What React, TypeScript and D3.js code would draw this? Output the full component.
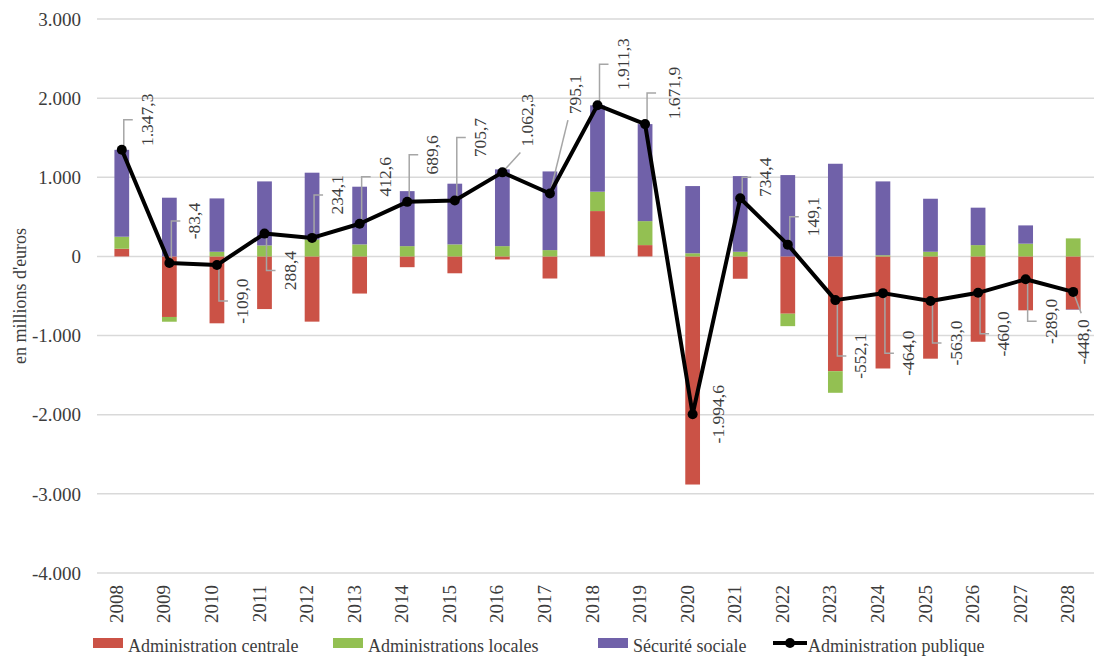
import React, { useEffect, useRef } from "react";
import * as d3 from "d3";

const years = [
  "2008", "2009", "2010", "2011", "2012", "2013", "2014", "2015", "2016", "2017", "2018",
  "2019", "2020", "2021", "2022", "2023", "2024", "2025", "2026", "2027", "2028",
];

// en millions d'euros
const adminCentrale = [97, -765, -845, -665, -824, -469, -136, -213, -38, -279, 573, 143, -2882, -282, -724, -1450, -1416, -1292, -1078, -681, -671];
const adminLocales = [152, -60, 59, 139, 215, 152, 130, 152, 130, 80, 245, 303, 40, 59, -157, -273, 15, 59, 143, 161, 228];
const securiteSociale = [1098, 742, 674, 809, 843, 729, 695, 767, 970, 994, 1091, 1226, 849, 956, 1028, 1171, 933, 670, 473, 231, -5];
const adminPublique = [1347.3, -83.4, -109.0, 288.4, 234.1, 412.6, 689.6, 705.7, 1062.3, 795.1, 1911.3, 1671.9, -1994.6, 734.4, 149.1, -552.1, -464.0, -563.0, -460.0, -289.0, -448.0];

const yTicks = [3000, 2000, 1000, 0, -1000, -2000, -3000, -4000];

const seriesNames = ["Administration centrale", "Administrations locales", "Sécurité sociale"];
const lineName = "Administration publique";

// label placement (pixel offset of the label centre from its point) and leader style
const labelDx = [25, 25, 25, 25, 25, 25, 25, 25, 25, 25, 25, 29, 25, 25, 25, 25, 25, 25, 25, 25, 10];
const labelDy = [-30, -42, 36, 37, -43, -47, -47, -63, -52, -99, -41, -31, 0, -21, -28, 56, 60, 42, 41, 42, 50];
const leaderType = ["elbow", "elbow", "elbow", "elbow", "elbow", "elbow", "elbow", "elbow", "diag", "diag", "elbow", "elbow", "none", "elbow", "elbow", "elbow", "elbow", "elbow", "elbow", "elbow", "diag"];

const colors = ["#cb5246", "#93c052", "#7061a9"];
const font = "Liberation Serif, DejaVu Serif, serif";
const textColor = "#3c3c3c";

export default function App() {
  const ref = useRef<SVGSVGElement>(null);

  useEffect(() => {
    const svg = d3.select(ref.current);
    svg.selectAll("*").remove();

    const x = d3.scaleBand().domain(years).range([98, 1097]).paddingInner(0.69).paddingOuter(0.345);
    const y = d3.scaleLinear().domain([-4000, 3000]).range([573, 19]);
    const cx = (yr: string) => (x(yr) as number) + x.bandwidth() / 2;

    const loc = d3.formatLocale({ decimal: ",", thousands: ".", grouping: [3], currency: ["", ""], minus: "-" } as any);
    const tickFmt = loc.format(",.0f");
    const labelFmt = loc.format(",.1f");

    // gridlines
    svg.append("g")
      .selectAll("line")
      .data(yTicks)
      .join("line")
      .attr("x1", 97)
      .attr("x2", 1094)
      .attr("y1", d => y(d))
      .attr("y2", d => y(d))
      .attr("stroke", "#d9d9d9")
      .attr("stroke-width", 1.5);

    // y tick labels
    svg.append("g")
      .selectAll("text")
      .data(yTicks)
      .join("text")
      .attr("x", 81)
      .attr("y", d => y(d))
      .attr("dy", "0.35em")
      .attr("text-anchor", "end")
      .style("font-family", font)
      .attr("font-size", 19)
      .attr("fill", textColor)
      .text(d => tickFmt(d));

    // y axis title
    svg.append("text")
      .attr("transform", `translate(26, ${(y(3000) + y(-4000)) / 2}) rotate(-90)`)
      .attr("text-anchor", "middle")
      .style("font-family", font)
      .attr("font-size", 18)
      .attr("fill", textColor)
      .text("en millions d'euros");

    // x labels
    svg.append("g")
      .selectAll("text")
      .data(years)
      .join("text")
      .attr("transform", d => `translate(${cx(d) + 1}, 585) rotate(-90)`)
      .attr("text-anchor", "end")
      .style("font-family", font)
      .attr("font-size", 19)
      .attr("fill", textColor)
      .text(d => d);

    // stacked bars
    const table = years.map((yr, i) => ({
      year: yr,
      centrale: adminCentrale[i],
      locales: adminLocales[i],
      securite: securiteSociale[i],
    }));
    const stacked = d3.stack<any>()
      .keys(["centrale", "locales", "securite"])
      .offset(d3.stackOffsetDiverging)(table);

    svg.append("g")
      .selectAll("g")
      .data(stacked)
      .join("g")
      .attr("fill", (d, i) => colors[i])
      .selectAll("rect")
      .data(d => d)
      .join("rect")
      .attr("x", (d: any) => x(d.data.year) as number)
      .attr("width", x.bandwidth())
      .attr("y", d => y(Math.max(d[0], d[1])))
      .attr("height", d => Math.abs(y(d[0]) - y(d[1])));

    // leader lines + data labels
    const labels = svg.append("g");
    const leaders = svg.append("g");
    years.forEach((yr, i) => {
      const px = cx(yr);
      const py = y(adminPublique[i]);
      const tx = px + labelDx[i];
      const ty = py + labelDy[i];
      const t = labels.append("text")
        .attr("transform", `translate(${tx}, ${ty}) rotate(-90)`)
        .attr("text-anchor", "middle")
        .attr("dominant-baseline", "central")
        .style("font-family", font)
        .attr("font-size", 17.5)
        .attr("fill", textColor)
        .text(labelFmt(adminPublique[i]));
      const half = (t.node() as SVGTextElement).getComputedTextLength() / 2;
      let path = "";
      if (leaderType[i] === "elbow") {
        path = `M${px + 2},${py} V${ty} H${px + 11}`;
      } else if (leaderType[i] === "diag") {
        const ey = labelDy[i] < 0 ? ty + half + 6 : ty - half - 6;
        path = `M${px},${py} L${px + Math.min(18, labelDx[i] - 2)},${ey}`;
      }
      if (path) {
        leaders.append("path")
          .attr("d", path)
          .attr("fill", "none")
          .attr("stroke", "#a6a6a6")
          .attr("stroke-width", 1.5);
      }
    });

    // line
    const line = d3.line<number>()
      .x((d, i) => cx(years[i]))
      .y(d => y(d));
    svg.append("path")
      .datum(adminPublique)
      .attr("d", line)
      .attr("fill", "none")
      .attr("stroke", "#000")
      .attr("stroke-width", 4)
      .attr("stroke-linejoin", "round");
    svg.append("g")
      .selectAll("circle")
      .data(adminPublique)
      .join("circle")
      .attr("cx", (d, i) => cx(years[i]))
      .attr("cy", d => y(d))
      .attr("r", 5)
      .attr("fill", "#000");

    // legend
    const legend = svg.append("g");
    const swatchX = [93, 333, 598];
    seriesNames.forEach((name, i) => {
      legend.append("rect")
        .attr("x", swatchX[i])
        .attr("y", 638)
        .attr("width", 30)
        .attr("height", 10)
        .attr("fill", colors[i]);
      legend.append("text")
        .attr("x", swatchX[i] + 35)
        .attr("y", 652)
        .style("font-family", font)
        .attr("font-size", 18)
        .attr("fill", textColor)
        .text(name);
    });
    legend.append("line")
      .attr("x1", 773)
      .attr("x2", 807)
      .attr("y1", 643)
      .attr("y2", 643)
      .attr("stroke", "#000")
      .attr("stroke-width", 4);
    legend.append("circle").attr("cx", 790).attr("cy", 643).attr("r", 5).attr("fill", "#000");
    legend.append("text")
      .attr("x", 808)
      .attr("y", 652)
      .style("font-family", font)
      .attr("font-size", 18)
      .attr("fill", textColor)
      .text(lineName);
  }, []);

  return (
    <svg
      ref={ref}
      width={1094}
      height={657}
      style={{ position: "absolute", left: 0, top: 0, background: "#fff", display: "block" }}
    />
  );
}
